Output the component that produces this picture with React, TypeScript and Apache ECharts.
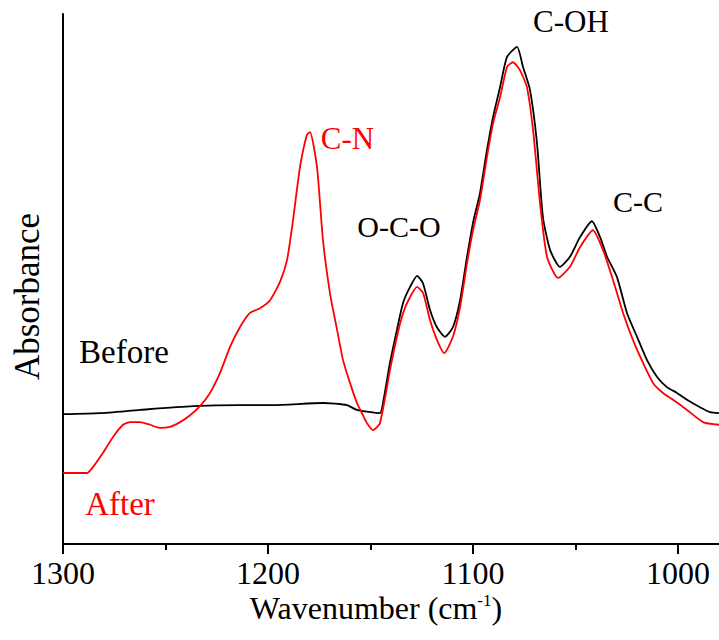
import React, { useEffect, useRef } from "react";
import * as echarts from "echarts";

// Wavenumber (cm-1) and absorbance (arbitrary units)
const beforeWavenumber = [
  1300.0, 1282.0, 1262.4, 1236.6, 1213.7, 1197.6, 1173.2, 1161.5, 1156.6, 1145.4,
  1143.9, 1140.5, 1137.1, 1134.1, 1130.7, 1127.3, 1124.4, 1121.0, 1117.6, 1113.7,
  1109.8, 1106.3, 1102.9, 1100.0, 1096.6, 1093.2, 1090.2, 1086.8, 1083.4, 1078.5,
  1075.6, 1072.2, 1068.8, 1065.9, 1062.4, 1057.6, 1052.7, 1047.8, 1042.0, 1038.0,
  1034.6, 1029.8, 1024.9, 1020.0, 1015.1, 1010.2, 1005.4, 1000.5, 995.6, 989.3,
  984.4, 980.0,
];
const beforeAbsorbance = [
  0.245, 0.247, 0.253, 0.26, 0.262, 0.262, 0.266, 0.262, 0.253, 0.247,
  0.266, 0.342, 0.404, 0.455, 0.485, 0.506, 0.492, 0.442, 0.409, 0.391,
  0.409, 0.46, 0.542, 0.606, 0.662, 0.743, 0.806, 0.862, 0.919, 0.938,
  0.9, 0.857, 0.757, 0.617, 0.555, 0.523, 0.542, 0.579, 0.609, 0.579,
  0.542, 0.504, 0.436, 0.391, 0.347, 0.315, 0.296, 0.285, 0.272, 0.258,
  0.249, 0.247,
];

const afterWavenumber = [
  1300.0, 1288.3, 1285.4, 1280.5, 1275.6, 1270.7, 1267.3, 1262.4, 1257.6, 1252.7,
  1247.8, 1242.9, 1238.0, 1233.2, 1228.3, 1223.4, 1218.5, 1213.7, 1208.8, 1203.9,
  1199.0, 1194.1, 1190.7, 1187.8, 1184.4, 1181.0, 1179.5, 1176.1, 1173.2, 1169.8,
  1166.3, 1163.4, 1160.0, 1156.6, 1153.7, 1151.7, 1148.8, 1145.4, 1140.5, 1137.1,
  1134.1, 1130.7, 1127.3, 1124.4, 1121.0, 1117.6, 1114.1, 1109.8, 1106.3, 1102.9,
  1100.0, 1096.6, 1093.2, 1090.2, 1086.8, 1083.4, 1080.5, 1077.1, 1073.7, 1070.7,
  1067.3, 1063.9, 1058.5, 1052.7, 1047.8, 1041.5, 1036.6, 1031.7, 1026.8, 1022.0,
  1017.1, 1012.2, 1007.3, 1002.4, 995.6, 987.8, 980.0,
];
const afterAbsorbance = [
  0.134, 0.134, 0.145, 0.172, 0.202, 0.225, 0.23, 0.23, 0.225, 0.219,
  0.221, 0.23, 0.243, 0.26, 0.285, 0.323, 0.372, 0.409, 0.436, 0.445,
  0.46, 0.495, 0.536, 0.611, 0.711, 0.772, 0.777, 0.711, 0.574, 0.474,
  0.404, 0.347, 0.304, 0.266, 0.243, 0.228, 0.215, 0.228, 0.328, 0.391,
  0.436, 0.466, 0.485, 0.474, 0.423, 0.385, 0.36, 0.391, 0.447, 0.53,
  0.592, 0.649, 0.73, 0.794, 0.843, 0.9, 0.909, 0.894, 0.862, 0.781,
  0.643, 0.542, 0.502, 0.523, 0.56, 0.592, 0.555, 0.498, 0.436, 0.385,
  0.342, 0.304, 0.285, 0.272, 0.253, 0.23, 0.225,
];

const majorTicks = [1000, 1100, 1200, 1300];
const minorTicks = [1050, 1150, 1250];

const FONT = "Liberation Serif";

const txt = (x: number, y: number, text: string, size: number, fill: string) => ({
  type: "text",
  x,
  y,
  style: {
    text,
    fontSize: size,
    fontFamily: FONT,
    align: "center",
    verticalAlign: "middle",
    fill,
  },
});

export default function App() {
  const ref = useRef<HTMLDivElement>(null);

  useEffect(() => {
    if (!ref.current) return;
    const chart = echarts.init(ref.current, null, { renderer: "svg" });
    const zip = (xs: number[], ys: number[]) => xs.map((x, i) => [x, ys[i]]);

    chart.setOption({
      animation: false,
      grid: { left: 63, right: 0, top: 14, bottom: 96, containLabel: false },
      xAxis: [
        {
          type: "value",
          inverse: true,
          min: 980,
          max: 1300,
          position: "bottom",
          axisLine: { show: true, onZero: false, lineStyle: { color: "#000", width: 2 } },
          axisTick: {
            show: true,
            inside: false,
            length: 10,
            customValues: majorTicks,
            lineStyle: { color: "#000", width: 2 },
          },
          axisLabel: {
            show: true,
            customValues: majorTicks,
            formatter: (v: number) => String(v),
            fontSize: 32,
            fontFamily: FONT,
            color: "#000",
            margin: 13,
          },
          splitLine: { show: false },
        },
        {
          type: "value",
          inverse: true,
          min: 980,
          max: 1300,
          position: "bottom",
          offset: 0,
          axisLine: { show: false },
          axisTick: {
            show: true,
            inside: false,
            length: 6,
            customValues: minorTicks,
            lineStyle: { color: "#000", width: 2 },
          },
          axisLabel: { show: false },
          splitLine: { show: false },
        },
      ],
      yAxis: {
        type: "value",
        min: 0,
        max: 1,
        axisLine: { show: true, onZero: false, lineStyle: { color: "#000", width: 2 } },
        axisTick: { show: false },
        axisLabel: { show: false },
        splitLine: { show: false },
      },
      series: [
        {
          name: "Before",
          type: "line",
          data: zip(beforeWavenumber, beforeAbsorbance),
          showSymbol: false,
          smooth: 0.2,
          lineStyle: { color: "#000000", width: 1.8 },
          z: 2,
        },
        {
          name: "After",
          type: "line",
          data: zip(afterWavenumber, afterAbsorbance),
          showSymbol: false,
          smooth: 0.2,
          lineStyle: { color: "#ff0000", width: 1.8 },
          z: 3,
        },
      ],
      graphic: [
        {
          type: "text",
          x: 376,
          y: 608,
          style: {
            text: "{a|Wavenumber (cm}{b|-1}{a|)}",
            align: "center",
            verticalAlign: "middle",
            fill: "#000",
            fontSize: 32,
            fontFamily: FONT,
            rich: {
              a: { fontSize: 32, fontFamily: FONT, fill: "#000" },
              b: { fontSize: 17, fontFamily: FONT, fill: "#000", verticalAlign: "top" },
            },
          },
        },
        {
          type: "text",
          x: 27.5,
          y: 296.5,
          rotation: Math.PI / 2,
          style: {
            text: "Absorbance",
            fontSize: 35,
            fontFamily: FONT,
            align: "center",
            verticalAlign: "middle",
            fill: "#000",
          },
        },
        txt(571, 21, "C-OH", 31, "#000"),
        txt(347.5, 138, "C-N", 31, "#ff0000"),
        txt(399, 226, "O-C-O", 30, "#000"),
        txt(638, 201, "C-C", 30, "#000"),
        txt(124, 352, "Before", 33, "#000"),
        txt(120, 504, "After", 33, "#ff0000"),
      ],
    });

    return () => chart.dispose();
  }, []);

  return (
    <div
      ref={ref}
      style={{ position: "absolute", left: 0, top: 0, width: 719, height: 640 }}
    />
  );
}
